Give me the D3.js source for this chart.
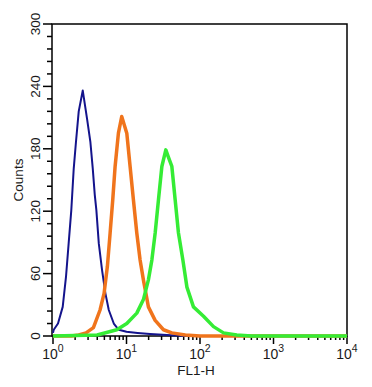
<!DOCTYPE html>
<html>
<head>
<meta charset="utf-8">
<script src="https://cdn.jsdelivr.net/npm/d3@7"></script>
<style>
  body { margin: 0; background: #fff; }
  text { font-family: "Liberation Sans", Arial, sans-serif; fill: #1a1a1a; }
</style>
</head>
<body>
<div id="chart"></div>
<script>
// decade exponents shown on the x axis
const xDecades = [0, 1, 2, 3, 4];
const yTicks = [0, 60, 120, 180, 240, 300];

// histogram outlines (log10 of FL1-H, counts)
const blueLog   = [0, 0.01, 0.068, 0.132, 0.177, 0.213, 0.249, 0.282, 0.313, 0.35, 0.405, 0.463, 0.508, 0.541, 0.568, 0.59, 0.623, 0.668, 0.713, 0.759, 0.827, 0.895, 1.0, 1.15, 1.32, 1.55, 1.8, 4];
const blueCount = [3, 6, 12, 28, 57, 89, 121, 161, 187, 216, 236, 209, 187, 161, 136, 121, 89, 63, 41, 25, 12, 6, 4, 3, 2, 1, 0, 0];

const orangeLog   = [0, 0.25, 0.35, 0.45, 0.55, 0.64, 0.695, 0.74, 0.777, 0.813, 0.845, 0.89, 0.935, 1.004, 1.049, 1.094, 1.14, 1.185, 1.23, 1.298, 1.39, 1.503, 1.617, 1.8, 2.0, 4];
const orangeCount = [0, 0, 1, 3, 8, 25, 41, 67, 99, 131, 163, 195, 211, 195, 163, 131, 99, 73, 54, 28, 15, 6, 3, 1, 0, 0];

const greenLog   = [0, 0.6, 0.868, 1.004, 1.14, 1.23, 1.298, 1.345, 1.39, 1.435, 1.481, 1.535, 1.57, 1.617, 1.662, 1.707, 1.767, 1.822, 1.911, 2.048, 2.184, 2.32, 2.5, 2.7, 4];
const greenCount = [0, 1, 6, 12, 22, 35, 54, 73, 99, 131, 163, 179, 172, 163, 131, 99, 73, 47, 28, 19, 9, 3, 1, 0, 0];

const width = 372, height = 387;
const plot = { left: 52, right: 347, top: 24, bottom: 336 };

const svg = d3.select("#chart").append("svg")
    .attr("width", width)
    .attr("height", height);

const x = d3.scaleLog().domain([1, 10000]).range([plot.left + 1, plot.right]);
const y = d3.scaleLinear().domain([0, 300]).range([plot.bottom, plot.top]);

// frame
svg.append("rect")
    .attr("x", plot.left).attr("y", plot.top)
    .attr("width", plot.right - plot.left).attr("height", plot.bottom - plot.top)
    .attr("fill", "none").attr("stroke", "#000").attr("stroke-width", 1.5);

// y ticks: minor every 12, major every 60
const yMinor = d3.range(0, 301, 12);
svg.selectAll(".ytick").data(yMinor).enter().append("line")
    .attr("x1", d => d % 60 === 0 ? plot.left - 9 : plot.left - 5)
    .attr("x2", plot.left)
    .attr("y1", d => y(d)).attr("y2", d => y(d))
    .attr("stroke", "#000").attr("stroke-width", 1.5);

svg.selectAll(".ylab").data(yTicks).enter().append("text")
    .attr("transform", d => "translate(39.5," + y(d) + ") rotate(-90)")
    .attr("text-anchor", "middle")
    .style("font-size", "13.5px")
    .text(d => d);

svg.append("text")
    .attr("transform", "translate(23," + ((plot.top + plot.bottom) / 2) + ") rotate(-90)")
    .attr("text-anchor", "middle")
    .style("font-size", "13.5px")
    .text("Counts");

// x ticks: decades plus 2..9 inside each
const xMinor = [];
xDecades.slice(0, -1).forEach(e => {
    for (let k = 2; k <= 9; k++) xMinor.push(k * Math.pow(10, e));
});
svg.selectAll(".xminor").data(xMinor).enter().append("line")
    .attr("x1", d => x(d)).attr("x2", d => x(d))
    .attr("y1", plot.bottom).attr("y2", plot.bottom + 4)
    .attr("stroke", "#000").attr("stroke-width", 1.5);
svg.selectAll(".xmajor").data(xDecades).enter().append("line")
    .attr("x1", d => x(Math.pow(10, d))).attr("x2", d => x(Math.pow(10, d)))
    .attr("y1", plot.bottom).attr("y2", plot.bottom + 8)
    .attr("stroke", "#000").attr("stroke-width", 1.5);

const xl = svg.selectAll(".xlab").data(xDecades).enter().append("text")
    .attr("x", d => x(Math.pow(10, d)))
    .attr("y", 359)
    .attr("text-anchor", "middle")
    .style("font-size", "14px");
xl.append("tspan").text("10");
xl.append("tspan").attr("dy", -7).style("font-size", "10.5px").text(d => d);

svg.append("text")
    .attr("x", 196).attr("y", 375)
    .attr("text-anchor", "middle")
    .style("font-size", "13.5px")
    .text("FL1-H");

// curves
const line = d3.line()
    .x(d => x(Math.pow(10, d[0])))
    .y(d => y(d[1]));

const series = [
    { log: blueLog, count: blueCount, color: "#14148c", width: 2 },
    { log: orangeLog, count: orangeCount, color: "#f0741c", width: 3.5 },
    { log: greenLog, count: greenCount, color: "#35ec35", width: 3.5 }
];

series.forEach(s => {
    svg.append("path")
        .datum(d3.zip(s.log, s.count))
        .attr("d", line)
        .attr("fill", "none")
        .attr("stroke", s.color)
        .attr("stroke-width", s.width)
        .attr("stroke-linejoin", "round");
});
</script>
</body>
</html>
